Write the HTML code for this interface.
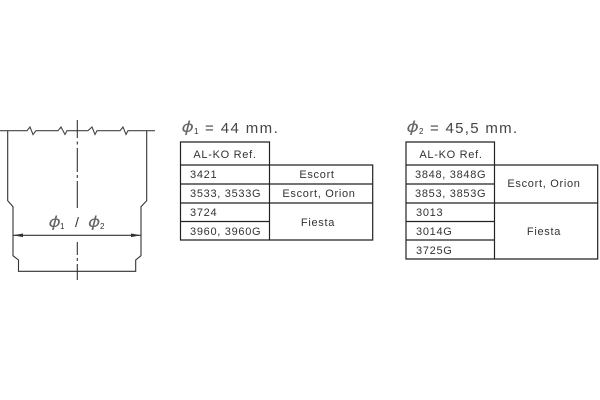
<!DOCTYPE html>
<html><head><meta charset="utf-8"><style>
html,body{margin:0;padding:0;background:#fff}
svg{display:block}
text{font-family:"Liberation Sans",sans-serif;fill:#333;font-size:11px;letter-spacing:.7px}
.m{text-anchor:middle}
.h{font-size:15px;fill:#444}
.p{font-family:"DejaVu Sans",sans-serif;font-style:italic;fill:#666}
.s{font-size:8px;letter-spacing:0}
</style></head><body>
<svg width="600" height="400" viewBox="0 0 600 400" xmlns="http://www.w3.org/2000/svg">
<defs><filter id="b" x="-2%" y="-2%" width="104%" height="104%"><feGaussianBlur stdDeviation="0.3"/></filter></defs>
<g filter="url(#b)">
<g fill="none" stroke="#333" stroke-width="1.1">
<path d="M0 130.7H27L30 127L33 134.5L36 130.7H58L61 127L65 134.5L67 130.7H88L92 127L95 134.5L97 130.7H120L123 127L126 134.5L128 130.7H155" stroke="#444"/>
<path d="M7.7 131V200.7L13 206.7V255.7L18.5 260V271.3H135.7V260L141 255.7V206.7L146.7 200.7V131"/>
<path d="M77.3 120V138M77.3 141.5V144.5M77.3 148V172M77.3 175V178M77.3 181V208M77.3 242V255M77.3 258V261M77.3 264V280"/>
<path d="M13 235.3H141"/>
</g>
<path d="M13 235.3L23 233.5V237.1ZM141 235.3L131 233.5V237.1Z" fill="#333"/>
<text transform="translate(48.5 227) scale(1.25 1)" class="p" style="font-size:15px">&#981;</text><text x="60" y="229" class="s">1</text>
<text x="75" y="227" style="font-size:14px">/</text>
<text transform="translate(88 227) scale(1.25 1)" class="p" style="font-size:15px">&#981;</text><text x="100" y="229" class="s">2</text>

<g fill="none" stroke="#222" stroke-width="1.2">
<path d="M180.5 142H269.5V240H180.5ZM180.5 165H372.7V240H269.5M180.5 184H372.7M180.5 203H372.7M180.5 221.5H269.5"/>
<path d="M406 142H494.5V259H406ZM406 165H597.7V259H494.5M406 184H494.5M406 203H597.7M406 221.5H494.5M406 240H494.5"/>
</g>

<text transform="translate(181.5 132) scale(1.25 1)" class="h p">&#981;</text><text x="194" y="134" class="s">1</text>
<text x="205" y="133" class="h" style="letter-spacing:1.4px">= 44 mm.</text>
<text transform="translate(406.5 132) scale(1.25 1)" class="h p">&#981;</text><text x="419" y="134" class="s">2</text>
<text x="430" y="133" class="h" style="letter-spacing:1.3px">= 45,5 mm.</text>

<text x="225" y="158" class="m">AL-KO Ref.</text>
<text x="190" y="178">3421</text>
<text x="190" y="197">3533, 3533G</text>
<text x="190" y="216">3724</text>
<text x="190" y="235">3960, 3960G</text>
<text x="317" y="178" class="m">Escort</text>
<text x="319" y="197" class="m">Escort, Orion</text>
<text x="318" y="226" class="m">Fiesta</text>

<text x="451" y="158" class="m">AL-KO Ref.</text>
<text x="415" y="178">3848, 3848G</text>
<text x="415" y="197">3853, 3853G</text>
<text x="416" y="216">3013</text>
<text x="416" y="235">3014G</text>
<text x="416" y="254">3725G</text>
<text x="544" y="187" class="m">Escort, Orion</text>
<text x="544" y="235" class="m">Fiesta</text>
</g>
</svg>
</body></html>
